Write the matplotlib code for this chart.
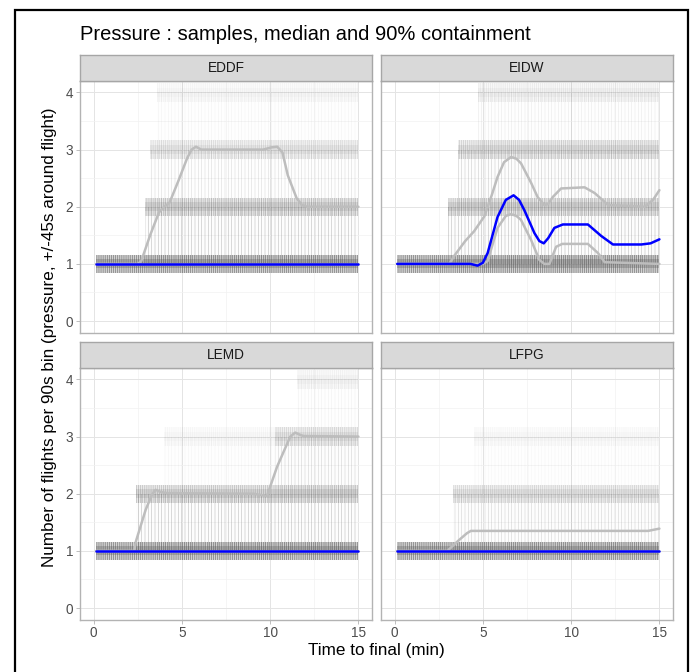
import matplotlib
matplotlib.use("Agg")
import matplotlib.pyplot as plt
from matplotlib.patches import Rectangle
import numpy as np

plt.rcParams["font.family"] = ["Liberation Sans", "DejaVu Sans"]
plt.rcParams["hatch.linewidth"] = 0.45

airports = ["EDDF", "EIDW", "LEMD", "LFPG"]

# 90% containment upper bound (time in min, flights)
upper_t = {
    "EDDF": [0.15, 2.5, 2.7, 3.2, 3.7, 4.0, 4.3, 4.8, 5.3, 5.55, 5.8, 6.1, 9.6, 10.1, 10.4, 10.7, 11.0, 11.5, 11.8, 12.1, 15.0],
    "EIDW": [0.15, 3.1, 3.4, 4.0, 4.5, 5.08, 5.5, 5.83, 6.2, 6.6, 6.9, 7.16, 7.73, 8.1, 8.48, 8.7, 8.96, 9.43, 10.76, 11.33, 12.1, 14.17, 14.64, 15.0],
    "LEMD": [0.15, 2.3, 2.39, 2.95, 3.3, 3.51, 3.8, 4.18, 9.07, 9.82, 10.39, 11.14, 11.42, 11.7, 11.89, 15.0],
    "LFPG": [0.15, 3.0, 3.09, 3.65, 4.1, 4.32, 4.6, 14.36, 15.0],
}
upper_v = {
    "EDDF": [1.0, 1.0, 1.05, 1.5, 1.9, 2.0, 2.07, 2.45, 2.85, 3.0, 3.05, 3.0, 3.0, 3.04, 3.05, 2.95, 2.55, 2.15, 2.03, 2.0, 2.0],
    "EIDW": [1.0, 1.0, 1.15, 1.4, 1.57, 1.83, 2.2, 2.52, 2.78, 2.87, 2.84, 2.76, 2.42, 2.17, 2.03, 2.05, 2.17, 2.32, 2.34, 2.24, 2.03, 2.0, 2.12, 2.29],
    "LEMD": [1.0, 1.0, 1.16, 1.72, 1.98, 2.07, 2.03, 2.01, 2.0, 1.96, 2.47, 3.0, 3.07, 3.03, 3.01, 3.0],
    "LFPG": [1.0, 1.0, 1.03, 1.19, 1.31, 1.35, 1.35, 1.35, 1.39],
}
# 90% containment lower bound
lower_t = {
    "EDDF": [0.15, 15.0],
    "EIDW": [0.15, 5.0, 5.27, 5.83, 6.3, 6.59, 6.9, 7.16, 7.73, 8.2, 8.48, 8.77, 9.15, 9.5, 10.95, 11.52, 11.9, 15.0],
    "LEMD": [0.15, 15.0],
    "LFPG": [0.15, 15.0],
}
lower_v = {
    "EDDF": [1.0, 1.0],
    "EIDW": [1.0, 1.0, 1.05, 1.63, 1.84, 1.87, 1.84, 1.77, 1.42, 1.07, 1.0, 1.0, 1.3, 1.35, 1.35, 1.19, 1.03, 1.0],
    "LEMD": [1.0, 1.0],
    "LFPG": [1.0, 1.0],
}
# median
median_t = {
    "EDDF": [0.15, 15.0],
    "EIDW": [0.15, 4.3, 4.7, 5.0, 5.27, 5.83, 6.3, 6.74, 7.05, 7.35, 7.92, 8.2, 8.45, 8.7, 9.05, 9.53, 10.95, 11.7, 12.37, 13.98, 14.5, 15.0],
    "LEMD": [0.15, 15.0],
    "LFPG": [0.15, 15.0],
}
median_v = {
    "EDDF": [1.0, 1.0],
    "EIDW": [1.0, 1.0, 0.97, 1.02, 1.19, 1.82, 2.12, 2.2, 2.12, 1.94, 1.54, 1.4, 1.36, 1.45, 1.63, 1.69, 1.69, 1.49, 1.34, 1.34, 1.36, 1.43],
    "LEMD": [1.0, 1.0],
    "LFPG": [1.0, 1.0],
}
# sample traces, summarised as occupied levels: (level, start, end, density)
sample_bands = {
    "EDDF": [(1, 0.15, 15.0, 1.0), (2, 2.9, 15.0, 0.45), (3, 3.2, 15.0, 0.25), (4, 3.6, 15.0, 0.08)],
    "EIDW": [(1, 0.15, 15.0, 1.0), (2, 3.0, 15.0, 0.45), (3, 3.6, 15.0, 0.35), (4, 4.7, 15.0, 0.15)],
    "LEMD": [(1, 0.15, 15.0, 1.0), (2, 2.4, 15.0, 0.45), (3, 4.0, 10.3, 0.07), (3, 10.3, 15.0, 0.3),
             (4, 11.5, 15.0, 0.1)],
    "LFPG": [(1, 0.15, 15.0, 1.0), (2, 3.3, 15.0, 0.3), (3, 4.5, 15.0, 0.06)],
}

W, H = 693, 672
fig = plt.figure(figsize=(W / 100, H / 100), dpi=100)

# outer frame
fig.add_artist(Rectangle((15 / W, -0.02), (688 - 15) / W, (672 - 10) / H + 0.02,
                         transform=fig.transFigure, fill=False, edgecolor="black", linewidth=1.6))

fig.text(80 / W, 1 - 35 / H, "Pressure : samples, median and 90% containment",
         fontsize=14.5, ha="left", va="center", color="black")

panel_x = [80, 381]
panel_top = [81, 368]
panel_w = 292
panel_h = 251.5
strip_h = 26

for i, ap in enumerate(airports):
    r, c = divmod(i, 2)
    x0 = panel_x[c]
    top = panel_top[r]
    ax = fig.add_axes([x0 / W, 1 - (top + panel_h) / H, panel_w / W, panel_h / H])
    sax = fig.add_axes([x0 / W, 1 - top / H, panel_w / W, strip_h / H])

    ax.set_xlim(-0.77, 15.77)
    ax.set_ylim(-0.2, 4.2)
    ax.set_xticks([0, 5, 10, 15])
    ax.set_xticks([2.5, 7.5, 12.5], minor=True)
    ax.set_yticks([0, 1, 2, 3, 4])
    ax.set_yticks([0.5, 1.5, 2.5, 3.5], minor=True)
    ax.grid(True, which="major", color="#E4E4E4", linewidth=0.7)
    ax.grid(True, which="minor", color="#F1F1F1", linewidth=0.5)
    ax.set_axisbelow(True)
    ax.tick_params(which="minor", length=0)
    ax.tick_params(which="major", length=3, width=0.6, color="#B3B3B3",
                   labelcolor="#4D4D4D", labelsize=9.8, pad=2)
    for s in ax.spines.values():
        s.set_color("#B3B3B3")
        s.set_linewidth(1.0)
    if c == 1:
        ax.tick_params(labelleft=False, left=False)
    if r == 0:
        ax.tick_params(labelbottom=False, bottom=False)

    # sample traces texture: jittered level bands and the jumps between them
    for level, t0, t1, dens in sample_bands[ap]:
        tt = np.array([t0, t1])
        if level > 1:
            ax.fill_between(tt, level - 1, level, facecolor=(0.7, 0.7, 0.7, 0.05 * dens),
                            edgecolor=(0.5, 0.5, 0.5, 1.0 * dens), hatch="|||||", linewidth=0, zorder=1)
        ax.fill_between(tt, level - 0.16, level + 0.16, facecolor=(0.5, 0.5, 0.5, 0.35 * dens),
                        edgecolor=(0.25, 0.25, 0.25, 0.65 * dens), hatch="||||||||", linewidth=0, zorder=1.5)
        ax.fill_between(tt, level - 0.08, level + 0.08, facecolor=(0.35, 0.35, 0.35, 0.3 * dens),
                        linewidth=0, zorder=1.6)

    ax.plot(upper_t[ap], upper_v[ap], color="#BDBDBD", linewidth=1.8, zorder=3,
            solid_capstyle="round", solid_joinstyle="round")
    ax.plot(lower_t[ap], lower_v[ap], color="#BDBDBD", linewidth=1.8, zorder=3,
            solid_capstyle="round", solid_joinstyle="round")
    ax.plot(median_t[ap], median_v[ap], color="#0000FF", linewidth=1.8, zorder=4,
            solid_capstyle="round", solid_joinstyle="round")

    sax.set_facecolor("#D9D9D9")
    sax.set_xticks([])
    sax.set_yticks([])
    for s in sax.spines.values():
        s.set_color("#A6A6A6")
        s.set_linewidth(1.0)
    sax.text(0.5, 0.5, ap, ha="center", va="center", fontsize=9.8, color="#1A1A1A",
             transform=sax.transAxes)

fig.text(376 / W, 1 - 651 / H, "Time to final (min)", ha="center", va="center", fontsize=12.3)
fig.text(50 / W, 1 - 337 / H, "Number of flights per 90s bin (pressure, +/-45s around flight)",
         ha="center", va="center", rotation=90, fontsize=12.3)

fig.savefig("out.png", dpi=100)
